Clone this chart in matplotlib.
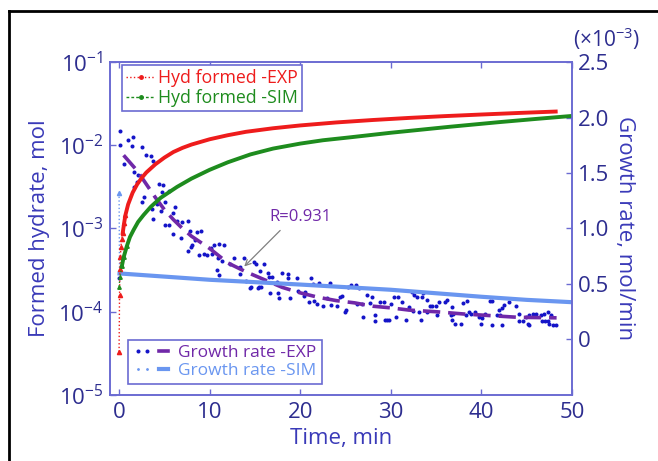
import matplotlib
matplotlib.use('Agg')
import matplotlib.pyplot as plt
from matplotlib.lines import Line2D
from matplotlib.legend_handler import HandlerTuple
from matplotlib.ticker import NullLocator

plt.rcParams['font.family'] = ['Open Sans', 'DejaVu Sans']
plt.rcParams['mathtext.fontset'] = 'custom'
plt.rcParams['mathtext.rm'] = 'Open Sans'
plt.rcParams['mathtext.it'] = 'Open Sans:italic'
plt.rcParams['mathtext.bf'] = 'Open Sans:bold'

# Formed hydrate (mol), experiment
t_hyd_exp = [0, 0.05, 0.1, 0.15, 0.2, 0.3, 0.4, 0.55, 0.7, 1.0, 1.5, 2, 2.5, 3, 4, 5, 6, 7,
             8, 10, 12, 14, 17, 20, 24, 28, 32, 36, 40, 44, 48.2]
hyd_exp = [3.3e-5, 1.6e-4, 3.3e-4, 4.6e-4, 6.0e-4, 7.5e-4, 8.8e-4, 1.15e-3, 1.45e-3,
           1.95e-3, 2.7e-3, 3.4e-3, 4.05e-3, 4.7e-3, 5.9e-3, 7.1e-3, 8.3e-3, 9.3e-3,
           1.02e-2, 1.18e-2, 1.32e-2, 1.45e-2, 1.6e-2, 1.73e-2, 1.88e-2, 2.01e-2, 2.13e-2,
           2.24e-2, 2.34e-2, 2.44e-2, 2.54e-2]

# Formed hydrate (mol), simulation
t_hyd_sim = [0, 0.1, 0.3, 0.5, 0.85, 1.2, 1.6, 2.1, 2.7, 3.5, 4.6, 6.4, 8, 10, 12, 14.5,
             17, 20, 22.5, 25.5, 30, 36.6, 42, 46, 50]
hyd_sim = [2.0e-4, 2.6e-4, 3.5e-4, 4.5e-4, 6.1e-4, 7.9e-4, 9.6e-4, 1.2e-3, 1.45e-3,
           1.82e-3, 2.34e-3, 3.16e-3, 3.98e-3, 5.07e-3, 6.24e-3, 7.76e-3, 9.12e-3,
           1.047e-2, 1.148e-2, 1.245e-2, 1.413e-2, 1.671e-2, 1.897e-2, 2.07e-2, 2.25e-2]

# Growth rate (x1e-3 mol/min), experiment
t_rate_exp = [0.0, 0.1, 0.1, 0.5, 1.0, 1.4, 1.5, 1.6, 1.6, 2.0, 2.1, 2.5, 2.5, 2.8, 3.0,
              3.5, 3.6, 3.7, 3.8, 4.2, 4.4, 4.6, 4.7, 4.9, 5.1, 5.1, 5.5, 5.5, 6.0, 6.0,
              6.2, 6.4, 6.8, 6.9, 7.6, 7.6, 7.8, 7.9, 8.1, 8.4, 8.6, 8.8, 9.0, 9.4, 9.7,
              10.1, 10.3, 10.5, 10.8, 10.9, 11.0, 11.0, 11.4, 11.6, 12.3, 12.7, 13.4, 13.4,
              13.8, 14.0, 14.4, 14.6, 14.9, 15.1, 15.3, 15.4, 15.6, 15.7, 16.0, 16.4, 16.5,
              16.7, 16.9, 17.4, 17.5, 17.6, 18.0, 18.6, 18.7, 18.9, 19.6, 19.7, 20.4, 20.5,
              21.0, 21.2, 21.4, 21.5, 21.8, 22.1, 22.5, 22.9, 23.3, 23.4, 24.1, 24.4, 24.6,
              24.9, 25.1, 25.3, 25.6, 26.2, 26.3, 26.5, 26.8, 26.9, 27.4, 27.7, 27.9, 28.2,
              28.3, 28.8, 29.2, 29.4, 29.6, 29.8, 30.0, 30.3, 30.6, 30.8, 31.2, 31.7, 32.0,
              32.3, 32.5, 32.6, 32.9, 33.1, 33.3, 33.4, 33.6, 34.0, 34.0, 34.3, 34.6, 35.0,
              35.1, 35.3, 36.0, 36.2, 36.6, 36.7, 36.7, 36.9, 37.1, 37.8, 38.0, 38.3, 38.4,
              38.6, 38.9, 39.3, 39.7, 40.0, 40.1, 40.4, 40.9, 41.2, 41.2, 41.7, 41.9, 42.1,
              42.3, 42.3, 42.5, 43.0, 43.8, 44.1, 44.2, 44.6, 44.9, 45.1, 45.3, 45.3, 45.7,
              46.0, 46.6, 46.7, 46.9, 47.0, 47.4, 47.4, 47.5, 47.7, 47.9, 48.2]
rate_exp = [0.55, 1.88, 1.75, 1.58, 1.80, 1.74, 1.82, 1.51, 1.37, 1.42, 1.48, 1.73, 1.24,
            1.28, 1.66, 1.65, 1.18, 1.09, 1.61, 1.22, 1.40, 1.16, 1.33, 1.39, 1.24, 1.03,
            1.34, 1.03, 1.14, 0.95, 1.19, 1.07, 0.91, 1.06, 1.07, 0.80, 0.98, 0.83, 0.85,
            0.90, 0.97, 0.76, 0.98, 0.77, 0.76, 0.82, 0.77, 0.85, 0.63, 0.73, 0.86, 0.58,
            0.71, 0.85, 0.68, 0.73, 0.65, 0.59, 0.73, 0.53, 0.46, 0.47, 0.70, 0.68, 0.46,
            0.47, 0.62, 0.47, 0.68, 0.60, 0.56, 0.42, 0.56, 0.52, 0.42, 0.37, 0.60, 0.59,
            0.55, 0.37, 0.55, 0.44, 0.39, 0.43, 0.34, 0.55, 0.50, 0.35, 0.32, 0.51, 0.30,
            0.37, 0.51, 0.31, 0.30, 0.38, 0.39, 0.25, 0.27, 0.47, 0.49, 0.49, 0.32, 0.46,
            0.32, 0.20, 0.40, 0.33, 0.38, 0.22, 0.17, 0.34, 0.34, 0.18, 0.18, 0.18, 0.32,
            0.38, 0.20, 0.38, 0.34, 0.18, 0.29, 0.43, 0.26, 0.40, 0.38, 0.25, 0.18, 0.38,
            0.42, 0.36, 0.25, 0.30, 0.30, 0.30, 0.22, 0.34, 0.34, 0.36, 0.22, 0.29, 0.18,
            0.23, 0.14, 0.14, 0.33, 0.22, 0.35, 0.25, 0.23, 0.25, 0.20, 0.14, 0.19, 0.23,
            0.35, 0.35, 0.13, 0.22, 0.27, 0.22, 0.28, 0.13, 0.31, 0.34, 0.30, 0.17, 0.23,
            0.17, 0.20, 0.14, 0.22, 0.13, 0.23, 0.23, 0.22, 0.17, 0.23, 0.17, 0.25, 0.17,
            0.14, 0.22, 0.13, 0.13]

# Fitted growth rate (R = 0.931)
t_rate_fit = [0.5, 2, 3, 4, 5, 6, 7, 8, 10, 12, 14, 16, 18, 20, 22, 24, 26, 28, 30, 32,
              35, 38, 41, 44, 48.3]
rate_fit = [1.66, 1.52, 1.40, 1.28, 1.17, 1.08, 1.00, 0.93, 0.82, 0.69, 0.61, 0.54, 0.47,
            0.42, 0.38, 0.35, 0.33, 0.30, 0.285, 0.265, 0.25, 0.23, 0.215, 0.20, 0.195]

# Growth rate (x1e-3 mol/min), simulation
t_rate_sim = [0, 0.05, 10, 20, 30, 40, 45, 50]
rate_sim = [1.32, 0.595, 0.538, 0.495, 0.448, 0.385, 0.357, 0.336]

RED = '#ee1c1c'
GREEN = '#1e8c1e'
DARK_BLUE = '#1414c8'
PURPLE = '#7028a8'
LIGHT_BLUE = '#6a96f0'
SPINE = '#6b6bd2'
TICK = '#2d2d8f'
LABEL = '#3a3ab8'

fig = plt.figure(figsize=(6.58, 4.61), dpi=100)
ax = fig.add_axes([0.1672, 0.1432, 0.7021, 0.7223])
ax2 = ax.twinx()
ax.set_zorder(ax2.get_zorder() + 1)
ax.patch.set_visible(False)

# right axis: growth rate
ax2.plot(t_rate_exp, rate_exp, ls='none', marker='o', ms=2.9, mec='none', color=DARK_BLUE)
ax2.plot(t_rate_fit, rate_fit, color=PURPLE, lw=2.6, dashes=(4.8, 2.2))
ax2.plot(t_rate_sim[:2], rate_sim[:2], ls=':', lw=1, color=LIGHT_BLUE,
         marker='^', ms=3, markevery=[0])
ax2.plot(t_rate_sim[1:], rate_sim[1:], color=LIGHT_BLUE, lw=3)

# left axis: formed hydrate
ax.plot(t_hyd_exp[:9], hyd_exp[:9], ls=':', lw=1, color=RED, marker='^', ms=3)
ax.plot(t_hyd_exp[6:], hyd_exp[6:], color=RED, lw=2.8, solid_joinstyle='round')
ax.plot(t_hyd_sim[:5], hyd_sim[:5], ls=':', lw=1, color=GREEN, marker='^', ms=2.5)
ax.plot(t_hyd_sim[2:], hyd_sim[2:], color=GREEN, lw=2.8, solid_joinstyle='round')

ax.set_yscale('log')
ax.set_ylim(1e-5, 1e-1)
ax.set_xlim(-1, 50)
ax.set_yticks([1e-5, 1e-4, 1e-3, 1e-2, 1e-1])
ax.set_yticklabels([r'$10^{-5}$', r'$10^{-4}$', r'$10^{-3}$', r'$10^{-2}$', r'$10^{-1}$'])
ax.yaxis.set_minor_locator(NullLocator())
ax.set_xticks([0, 10, 20, 30, 40, 50])

ax2.set_ylim(-0.5, 2.5)
ax2.set_yticks([0, 0.5, 1.0, 1.5, 2.0, 2.5])
ax2.set_yticklabels(['0', '0.5', '1.0', '1.5', '2.0', '2.5'])

for a in (ax, ax2):
    for sp in a.spines.values():
        sp.set_color(SPINE)
        sp.set_linewidth(1.2)
ax.tick_params(axis='both', which='both', direction='in', length=4, width=1,
               color=SPINE, labelcolor=TICK, labelsize=16, pad=5)
ax.tick_params(axis='x', top=True)
ax2.tick_params(axis='y', direction='in', length=4, width=1,
                color=SPINE, labelcolor=TICK, labelsize=16, pad=4)

ax.set_xlabel('Time, min', color=LABEL, fontsize=16, labelpad=4)
ax.set_ylabel('Formed hydrate, mol', color=LABEL, fontsize=16, labelpad=6)
ax2.set_ylabel('Growth rate, mol/min', color=LABEL, fontsize=16, rotation=270,
               va='bottom', labelpad=4)
fig.text(0.921, 0.917, r'(×10$^{-3}$)', color=TICK, fontsize=15, ha='center', va='center')

# correlation note on the fitted rate
ax2.annotate('', xy=(13.6, 0.64), xytext=(18.0, 1.0),
             arrowprops=dict(arrowstyle='->', color='gray', lw=0.9))
ax2.text(16.6, 1.10, 'R=0.931', color=PURPLE, fontsize=12, ha='left', va='center')

# legends
h_hyd_exp = Line2D([], [], color=RED, ls=':', lw=1, marker='.', ms=5)
h_hyd_sim = Line2D([], [], color=GREEN, ls=(0, (2, 1.5)), lw=1, marker='.', ms=5)
leg1 = ax.legend([h_hyd_exp, h_hyd_sim], ['Hyd formed -EXP', 'Hyd formed -SIM'],
                 loc='upper left', bbox_to_anchor=(0.026, 0.991), borderaxespad=0,
                 fontsize=12.8, numpoints=1, handlelength=1.6, handletextpad=0.15,
                 borderpad=0.25, labelspacing=0.08, fancybox=False, edgecolor=SPINE,
                 framealpha=1)
leg1.get_frame().set_linewidth(1.2)
for txt, c in zip(leg1.get_texts(), [RED, GREEN]):
    txt.set_color(c)
ax.add_artist(leg1)

h_dots = Line2D([], [], ls='none', marker='o', ms=2.9, mec='none', color=DARK_BLUE)
h_fit = Line2D([], [], color=PURPLE, lw=2.6)
h_sim_dot = Line2D([], [], ls='none', marker='.', ms=2, color=LIGHT_BLUE)
h_sim_line = Line2D([], [], color=LIGHT_BLUE, lw=3)
leg2 = ax.legend([(h_dots, h_fit), (h_sim_dot, h_sim_line)],
                 ['Growth rate -EXP', 'Growth rate -SIM'],
                 handler_map={tuple: HandlerTuple(ndivide=2, pad=0.1)},
                 loc='lower left', bbox_to_anchor=(0.039, 0.033), borderaxespad=0,
                 fontsize=12.5, numpoints=2, handlelength=2.3, handletextpad=0.3,
                 borderpad=0.3, labelspacing=0.1, fancybox=False, edgecolor=SPINE,
                 framealpha=1)
leg2.get_frame().set_linewidth(1.2)
for txt, c in zip(leg2.get_texts(), [PURPLE, LIGHT_BLUE]):
    txt.set_color(c)

# black frame along the left and top of the figure
x_b = 8.5 / 658
y_b = 1 - 11 / 461
fig.add_artist(Line2D([x_b, x_b], [0, y_b], transform=fig.transFigure, color='black', lw=2))
fig.add_artist(Line2D([x_b, 1], [y_b, y_b], transform=fig.transFigure, color='black', lw=2))

fig.savefig('out.png', dpi=100)
